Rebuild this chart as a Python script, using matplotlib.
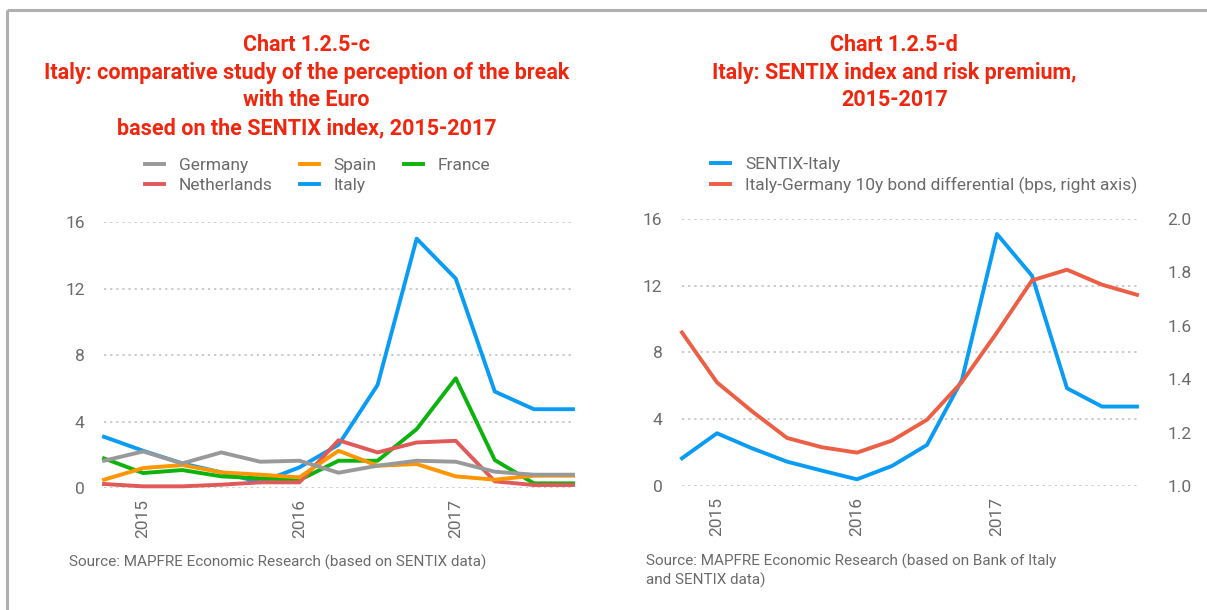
import matplotlib
matplotlib.use("Agg")
import matplotlib.pyplot as plt
from matplotlib.lines import Line2D

# chart c: quarterly SENTIX break-up index, 13 quarters
GERMANY = [1.64, 2.2, 1.48, 2.14, 1.58, 1.64, 0.92, 1.34, 1.64, 1.58, 0.98, 0.8, 0.8]
SPAIN = [0.5, 1.2, 1.38, 0.94, 0.8, 0.64, 2.24, 1.34, 1.44, 0.7, 0.5, 0.74, 0.74]
FRANCE = [1.78, 0.9, 1.08, 0.7, 0.58, 0.48, 1.64, 1.64, 3.54, 6.6, 1.68, 0.28, 0.28]
NETHERLANDS = [0.24, 0.1, 0.1, 0.2, 0.34, 0.34, 2.87, 2.14, 2.74, 2.84, 0.4, 0.18, 0.18]
ITALY = [3.08, 2.24, 1.48, 0.94, 0.34, 1.24, 2.6, 6.2, 15.0, 12.6, 5.8, 4.74, 4.74]
YEAR_TICKS_C = [1, 5, 9]

# chart d: SENTIX Italy vs 10y spread, 14 quarters
SENTIX_ITALY = [1.66, 3.16, 2.26, 1.46, 0.92, 0.4, 1.2, 2.46, 6.36, 15.1, 12.6, 5.86, 4.76, 4.76]
SPREAD = [1.575, 1.388, 1.28, 1.18, 1.145, 1.125, 1.17, 1.248, 1.39, 1.575, 1.77, 1.81, 1.754, 1.716]
YEAR_TICKS_D = [1, 5, 9]
YEARS = ["2015", "2016", "2017"]

RED = "#f0260f"
GREY_TXT = "#6b6b6b"
GRID = "#bdbdbd"
C_GER = "#999999"
C_ESP = "#ff9500"
C_FRA = "#0db30d"
C_NLD = "#e05a5a"
C_ITA = "#0a9cf5"
C_SPREAD = "#ec5f45"

FONT = ["Roboto", "DejaVu Sans"]
plt.rcParams["font.family"] = FONT
LW = 2.8


def style_axis(ax, n):
    ax.set_xlim(0, n - 1)
    ax.set_ylim(0, 16)
    ax.set_yticks([0, 4, 8, 12, 16])
    ax.grid(axis="y", color=GRID, linestyle=(0, (1.5, 2.5)), linewidth=1.1)
    ax.set_axisbelow(True)
    for s in ax.spines.values():
        s.set_visible(False)
    ax.tick_params(length=0, labelsize=12.5, labelcolor=GREY_TXT)
    ax.tick_params(axis="y", pad=14)
    ax.tick_params(axis="x", pad=8)


fig = plt.figure(figsize=(12.07, 6.10), dpi=100, facecolor="white")

# frame lines of the page
fig.add_artist(Line2D([0.006, 1.0], [0.984, 0.984], color="#b0b0b0", lw=2.2,
                      solid_capstyle="butt"))
fig.add_artist(Line2D([0.006, 0.006], [0.0, 0.984], color="#b0b0b0", lw=2.2,
                      solid_capstyle="butt"))

# ---- chart c
ax1 = fig.add_axes([0.0862, 0.2, 0.3885, 0.436])
xs = range(len(ITALY))
h_ger, = ax1.plot(xs, GERMANY, color=C_GER, lw=LW, clip_on=False, zorder=6)
h_esp, = ax1.plot(xs, SPAIN, color=C_ESP, lw=LW, clip_on=False, zorder=5)
h_fra, = ax1.plot(xs, FRANCE, color=C_FRA, lw=LW, clip_on=False, zorder=3)
h_nld, = ax1.plot(xs, NETHERLANDS, color=C_NLD, lw=LW, clip_on=False, zorder=4)
h_ita, = ax1.plot(xs, ITALY, color=C_ITA, lw=LW, clip_on=False, zorder=2)
style_axis(ax1, len(ITALY))
ax1.set_xticks(YEAR_TICKS_C)
ax1.set_xticklabels(YEARS, rotation=90, va="top")

fig.legend(
    [h_ger, h_nld, h_esp, h_ita, h_fra],
    ["Germany", "Netherlands", "Spain", "Italy", "France"],
    ncol=3, loc="center left", bbox_to_anchor=(0.113, 0.713),
    frameon=False, fontsize=12.5, labelcolor=GREY_TXT,
    handlelength=1.1, handletextpad=0.85, columnspacing=1.55,
    labelspacing=0.28, borderpad=0,
)

fig.text(0.254, 0.944,
         "Chart 1.2.5-c\nItaly: comparative study of the perception of the break\n"
         "with the Euro\nbased on the SENTIX index, 2015-2017",
         ha="center", va="top", color=RED, fontsize=15.5, fontweight="bold",
         linespacing=1.33)
fig.text(0.057, 0.078, "Source: MAPFRE Economic Research (based on SENTIX data)",
         color=GREY_TXT, fontsize=11, ha="left", va="center")

# ---- chart d
ax2 = fig.add_axes([0.565, 0.2033, 0.377, 0.4377])
xs2 = range(len(SENTIX_ITALY))
h_sen, = ax2.plot(xs2, SENTIX_ITALY, color=C_ITA, lw=LW, clip_on=False, zorder=3)
style_axis(ax2, len(SENTIX_ITALY))
ax2.set_xticks(YEAR_TICKS_D)
ax2.set_xticklabels(YEARS, rotation=90, va="top")

ax3 = ax2.twinx()
h_spr, = ax3.plot(xs2, SPREAD, color=C_SPREAD, lw=LW, clip_on=False, zorder=2)
ax3.set_ylim(1.0, 2.0)
ax3.set_yticks([1.0, 1.2, 1.4, 1.6, 1.8, 2.0])
ax3.set_yticklabels(["1.0", "1.2", "1.4", "1.6", "1.8", "2.0"])
for s in ax3.spines.values():
    s.set_visible(False)
ax3.tick_params(length=0, labelsize=12.5, labelcolor=GREY_TXT, pad=22)

fig.legend(
    [h_sen, h_spr],
    ["SENTIX-Italy", "Italy-Germany 10y bond differential (bps, right axis)"],
    loc="center left", bbox_to_anchor=(0.582, 0.713),
    frameon=False, fontsize=12.5, labelcolor=GREY_TXT,
    handlelength=1.1, handletextpad=0.85, labelspacing=0.28, borderpad=0,
)

fig.text(0.741, 0.944,
         "Chart 1.2.5-d\nItaly: SENTIX index and risk premium,\n2015-2017",
         ha="center", va="top", color=RED, fontsize=15.5, fontweight="bold",
         linespacing=1.33)
fig.text(0.535, 0.064,
         "Source: MAPFRE Economic Research (based on Bank of Italy\nand SENTIX data)",
         color=GREY_TXT, fontsize=11, ha="left", va="center", linespacing=1.25)

fig.savefig("out.png", dpi=100, facecolor="white")
